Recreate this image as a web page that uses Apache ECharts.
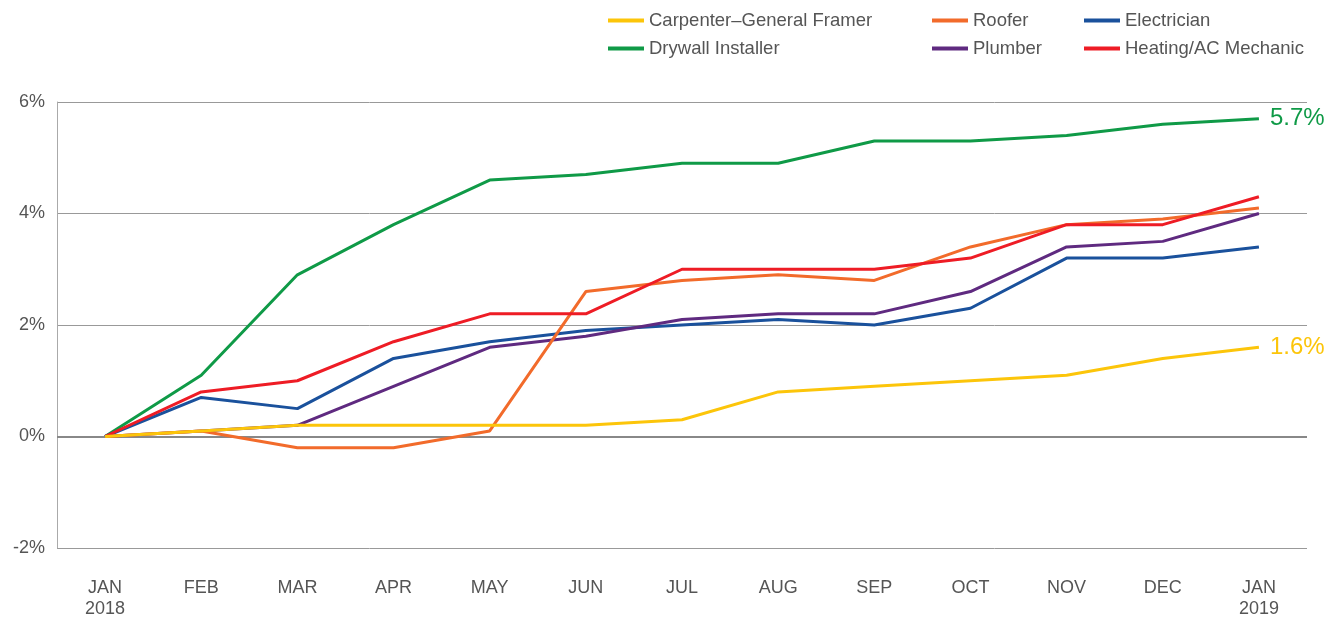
<!DOCTYPE html>
<html>
<head>
<meta charset="utf-8">
<script src="https://cdn.jsdelivr.net/npm/echarts@6/dist/echarts.min.js"></script>
<style>
  html, body { margin: 0; padding: 0; background: #fff; }
  #chart { width: 1338px; height: 620px; }
</style>
</head>
<body>
<div id="chart"></div>
<script>
var months = ["JAN\n2018", "FEB", "MAR", "APR", "MAY", "JUN", "JUL", "AUG", "SEP", "OCT", "NOV", "DEC", "JAN\n2019"];
var carpenter = [0, 0.1, 0.2, 0.2, 0.2, 0.2, 0.3, 0.8, 0.9, 1.0, 1.1, 1.4, 1.6];
var drywall = [0, 1.1, 2.9, 3.8, 4.6, 4.7, 4.9, 4.9, 5.3, 5.3, 5.4, 5.6, 5.7];
var roofer = [0, 0.1, -0.2, -0.2, 0.1, 2.6, 2.8, 2.9, 2.8, 3.4, 3.8, 3.9, 4.1];
var plumber = [0, 0.1, 0.2, 0.9, 1.6, 1.8, 2.1, 2.2, 2.2, 2.6, 3.4, 3.5, 4.0];
var electrician = [0, 0.7, 0.5, 1.4, 1.7, 1.9, 2.0, 2.1, 2.0, 2.3, 3.2, 3.2, 3.4];
var heating = [0, 0.8, 1.0, 1.7, 2.2, 2.2, 3.0, 3.0, 3.0, 3.2, 3.8, 3.8, 4.3];
var yTicks = [-2, 0, 2, 4, 6];

var font = "Liberation Sans";
var chart = echarts.init(document.getElementById("chart"));

function line(name, data, color, endLabel) {
    var s = {
        name: name,
        type: "line",
        data: data,
        symbol: "none",
        lineStyle: { color: color, width: 3 },
        itemStyle: { color: color },
        z: 3,
    };
    if (endLabel) {
        s.endLabel = {
            show: true,
            distance: 11,
            color: color,
            fontFamily: font,
            fontSize: 24,
            formatter: function (p) {
                return p.value + "%";
            },
        };
    }
    return s;
}

function legend(left, names) {
    return {
        orient: "vertical",
        left: left,
        top: 11,
        padding: 0,
        itemWidth: 36,
        itemHeight: 4,
        itemGap: 9,
        icon: "rect",
        data: names,
        selectedMode: false,
        textStyle: { color: "#555", fontFamily: font, fontSize: 18.5, padding: [0, 0, 0, 0] },
    };
}

var zeroSeries = line("Electrician", electrician, "#1a519c");
zeroSeries.markLine = {
    silent: true,
    symbol: "none",
    label: { show: false },
    lineStyle: { color: "#888", width: 2, type: "solid" },
    data: [{ yAxis: 0 }],
    z: 1,
};

chart.setOption({
    animation: false,
    legend: [
        legend(608, ["Carpenter–General Framer", "Drywall Installer"]),
        legend(932, ["Roofer", "Plumber"]),
        legend(1084, ["Electrician", "Heating/AC Mechanic"]),
    ],
    grid: { left: 57, right: 31, top: 102, bottom: 71 },
    xAxis: {
        type: "category",
        data: months,
        boundaryGap: true,
        axisLine: { show: false },
        axisTick: { show: false },
        axisLabel: {
            color: "#555",
            fontFamily: font,
            fontSize: 18,
            lineHeight: 21,
            margin: 30,
            verticalAlign: "top",
        },
    },
    yAxis: {
        type: "value",
        min: yTicks[0],
        max: yTicks[yTicks.length - 1],
        interval: 2,
        axisLine: { show: true, lineStyle: { color: "#aaa", width: 1 } },
        axisTick: { show: false },
        splitLine: { lineStyle: { color: "#999", width: 1 } },
        axisLabel: {
            color: "#555",
            fontFamily: font,
            fontSize: 18,
            margin: 12,
            formatter: "{value}%",
        },
    },
    series: [
        line("Drywall Installer", drywall, "#0f9a47", true),
        zeroSeries,
        line("Plumber", plumber, "#5f2a80"),
        line("Roofer", roofer, "#f26b2b"),
        line("Heating/AC Mechanic", heating, "#ee1c25"),
        line("Carpenter–General Framer", carpenter, "#fcc50a", true),
    ],
});
</script>
</body>
</html>
